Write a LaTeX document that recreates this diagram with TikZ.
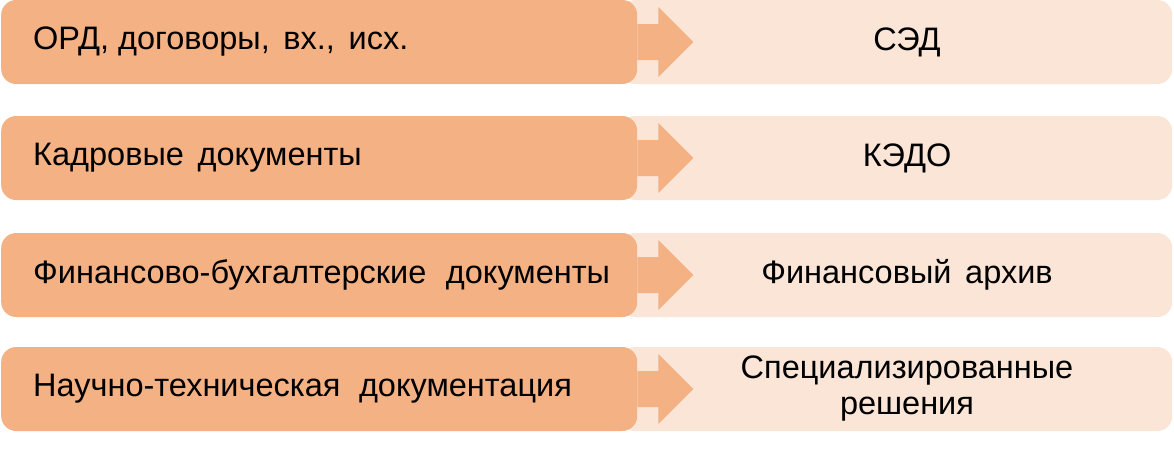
\documentclass[tikz,border=0pt]{standalone}
\usepackage{fontspec}
\setmainfont{Liberation Sans}
\usetikzlibrary{calc}
\definecolor{boxdark}{HTML}{F4B183}
\definecolor{boxlight}{HTML}{FBE5D6}
\newcommand{\widespaces}{\spaceskip=0.42em plus 0.1em\relax}
\begin{document}
\begin{tikzpicture}[x=1pt,y=-1pt,
  leftbox/.style={fill=boxdark, rounded corners=15pt, minimum width=636pt, minimum height=84pt,
    text width=636pt, align=left, inner xsep=0pt, inner ysep=0pt, anchor=west,
    font=\fontsize{32.5}{36}\selectfont},
  rightbox/.style={fill=boxlight, rounded corners=15pt, minimum width=552pt, minimum height=84pt,
    inner sep=0pt, anchor=west},
  righttext/.style={align=center, inner sep=0pt,
    font=\fontsize{32.5}{36}\selectfont},
  chev/.style={fill=boxdark}
]
\useasboundingbox (0,0) rectangle (1174,450);
\foreach \ii/\yy/\ltext/\rtext in {1/42/{ОРД,\hspace{0.28em}договоры, вх., исх.}/{СЭД},
                           2/158/{Кадровые документы}/{КЭДО},
                           3/275/{Финансово-бухгалтерские\hspace{0.6em}документы}/{Финансовый архив},
                           4/389/{Научно-техническая\hspace{0.15em} документация}/{Специализированные\\решения}}{
  \node[rightbox] (R\ii) at (620,\yy) {};
  \node[leftbox] (L\ii) at (1,\yy) {\noindent\widespaces\hspace*{32pt}\ltext};
  \node[righttext] (T\ii) at (907,\yy) {\widespaces\rtext};
  \fill[chev] ($(L\ii.east)+(0,-18)$) -- ($(L\ii.east)+(21,-18)$) -- ($(L\ii.east)+(21,-35)$)
     -- ($(L\ii.east)+(56,0)$) -- ($(L\ii.east)+(21,35)$) -- ($(L\ii.east)+(21,18)$)
     -- ($(L\ii.east)+(0,18)$) -- cycle;
}
\end{tikzpicture}
\end{document}
